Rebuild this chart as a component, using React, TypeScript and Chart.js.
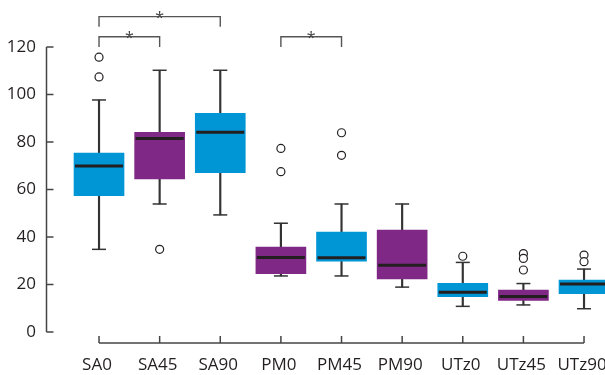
import React, { useEffect, useRef } from 'react';
import { Chart, registerables } from 'chart.js';

Chart.register(...registerables);

const categories = ['SA0', 'SA45', 'SA90', 'PM0', 'PM45', 'PM90', 'UTz0', 'UTz45', 'UTz90'];
const whiskerLow = [34.8, 53.9, 49.3, 23.6, 23.6, 18.9, 10.8, 11.4, 9.8];
const q1 = [57.4, 64.5, 67.1, 24.6, 29.8, 22.4, 14.9, 13.3, 16.1];
const median = [69.9, 81.5, 84.1, 31.4, 31.3, 28.1, 16.7, 15.0, 20.2];
const q3 = [75.3, 84.1, 92.1, 35.8, 42.1, 42.9, 20.5, 17.7, 21.9];
const whiskerHigh = [97.7, 110.2, 110.2, 45.8, 53.9, 53.9, 29.3, 20.4, 26.5];
const outliers: number[][] = [
  [115.7, 107.4],
  [34.8],
  [],
  [77.3, 67.5],
  [83.9, 74.4],
  [],
  [31.9],
  [33.0, 31.0, 26.1],
  [32.4, 29.6],
];
const yTicks = [0, 20, 40, 60, 80, 100, 120];
const comparisons = [
  { from: 0, to: 2, level: 132.8, leg: 128.5, label: '*' },
  { from: 0, to: 1, level: 124.3, leg: 120, label: '*' },
  { from: 3, to: 4, level: 124.3, leg: 120, label: '*' },
];

const BLUE = '#0096d6';
const PURPLE = '#7f2885';
const boxColors = categories.map((_, i) => (i % 2 === 0 ? BLUE : PURPLE));
const INK = '#231f20';
const LINE = '#444444';
const FONT = "'Open Sans', 'Noto Sans', sans-serif";

const axesPlugin = {
  id: 'customAxes',
  afterDraw(chart: any) {
    const { ctx } = chart;
    const xs = chart.scales.x;
    const ys = chart.scales.y;
    ctx.save();
    ctx.strokeStyle = LINE;
    ctx.lineWidth = 1.5;
    // y axis
    const ax = xs.left - 0.5;
    ctx.beginPath();
    ctx.moveTo(ax, ys.getPixelForValue(yTicks[yTicks.length - 1]));
    ctx.lineTo(ax, ys.getPixelForValue(yTicks[0]));
    ctx.stroke();
    yTicks.forEach((t) => {
      const py = ys.getPixelForValue(t);
      ctx.beginPath();
      ctx.moveTo(ax, py);
      ctx.lineTo(ax + 7, py);
      ctx.stroke();
    });
    // x axis
    const by = ys.getPixelForValue(0) + 11;
    ctx.beginPath();
    ctx.moveTo(xs.getPixelForValue(0), by);
    ctx.lineTo(xs.getPixelForValue(categories.length - 1), by);
    ctx.stroke();
    categories.forEach((_, i) => {
      const px = xs.getPixelForValue(i);
      ctx.beginPath();
      ctx.moveTo(px, by);
      ctx.lineTo(px, by - 7);
      ctx.stroke();
    });
    // significance brackets
    ctx.strokeStyle = '#555555';
    ctx.lineWidth = 1.4;
    ctx.fillStyle = '#444444';
    ctx.font = `16px ${FONT}`;
    ctx.textAlign = 'center';
    ctx.textBaseline = 'alphabetic';
    comparisons.forEach((c) => {
      const x1 = xs.getPixelForValue(c.from);
      const x2 = xs.getPixelForValue(c.to);
      const yl = ys.getPixelForValue(c.level);
      const yg = ys.getPixelForValue(c.leg);
      ctx.beginPath();
      ctx.moveTo(x1, yg);
      ctx.lineTo(x1, yl);
      ctx.lineTo(x2, yl);
      ctx.lineTo(x2, yg);
      ctx.stroke();
      ctx.fillText(c.label, (x1 + x2) / 2, yl + 6);
    });
    ctx.restore();
  },
};

export default function App() {
  const ref = useRef<HTMLCanvasElement | null>(null);

  useEffect(() => {
    if (!ref.current) return;
    Chart.defaults.font.family = FONT;
    const idx = categories.map((_, i) => i);
    const chart = new Chart(ref.current, {
      type: 'bar',
      data: {
        datasets: [
          {
            type: 'bar',
            label: 'box',
            data: idx.map((i) => ({ x: i, y: [q1[i], q3[i]] })) as any,
            backgroundColor: boxColors,
            borderWidth: 0,
            barThickness: 50,
            grouped: false,
            order: 3,
          } as any,
          {
            type: 'bar',
            label: 'whiskerLow',
            data: idx.map((i) => ({ x: i, y: [whiskerLow[i], q1[i]] })) as any,
            backgroundColor: '#333333',
            borderWidth: 0,
            barThickness: 1.5,
            grouped: false,
            order: 4,
          } as any,
          {
            type: 'bar',
            label: 'whiskerHigh',
            data: idx.map((i) => ({ x: i, y: [q3[i], whiskerHigh[i]] })) as any,
            backgroundColor: '#333333',
            borderWidth: 0,
            barThickness: 1.5,
            grouped: false,
            order: 4,
          } as any,
          {
            type: 'scatter',
            label: 'caps',
            data: [
              ...idx.map((i) => ({ x: i, y: whiskerLow[i] })),
              ...idx.map((i) => ({ x: i, y: whiskerHigh[i] })),
            ],
            pointStyle: 'line',
            pointRadius: 7,
            borderWidth: 1.5,
            borderColor: '#333333',
            order: 2,
          } as any,
          {
            type: 'scatter',
            label: 'median',
            data: idx.map((i) => ({ x: i, y: median[i] })),
            pointStyle: 'line',
            pointRadius: 24,
            borderWidth: 3,
            borderColor: INK,
            order: 0,
          } as any,
          {
            type: 'scatter',
            label: 'outliers',
            data: idx.flatMap((i) => outliers[i].map((v) => ({ x: i, y: v }))),
            pointStyle: 'circle',
            pointRadius: 4,
            borderWidth: 1.2,
            borderColor: INK,
            backgroundColor: '#ffffff',
            order: 1,
          } as any,
        ],
      },
      options: {
        responsive: false,
        animation: false,
        events: [],
        layout: { autoPadding: false, padding: { top: 47, right: 0, bottom: 0, left: 0 } },
        plugins: { legend: { display: false }, tooltip: { enabled: false } },
        scales: {
          x: {
            type: 'linear',
            min: -0.858,
            max: 8.346,
            offset: false,
            grid: { display: false, drawTicks: false },
            border: { display: false },
            afterBuildTicks: (s: any) => {
              s.ticks = categories.map((_, i) => ({ value: i }));
            },
            ticks: {
              autoSkip: false,
              maxRotation: 0,
              padding: 23,
              labelOffset: -2,
              color: INK,
              font: { size: 17 },
              callback: (v: any) => categories[Math.round(Number(v))] ?? '',
            },
            afterFit: (s: any) => {
              s.height = 43;
              s.paddingLeft = 0;
              s.paddingRight = 0;
            },
          } as any,
          y: {
            type: 'linear',
            min: 0,
            max: 120,
            grid: { display: false, drawTicks: false },
            border: { display: false },
            afterBuildTicks: (s: any) => {
              s.ticks = yTicks.map((v) => ({ value: v }));
            },
            ticks: {
              padding: 11,
              color: INK,
              font: { size: 17 },
            },
            afterFit: (s: any) => {
              s.width = 47;
              s.paddingTop = 0;
              s.paddingBottom = 0;
            },
          } as any,
        },
      },
      plugins: [axesPlugin],
    });
    return () => chart.destroy();
  }, []);

  return (
    <canvas
      ref={ref}
      width={605}
      height={375}
      style={{ position: 'absolute', left: 0, top: 0, display: 'block' }}
    />
  );
}
